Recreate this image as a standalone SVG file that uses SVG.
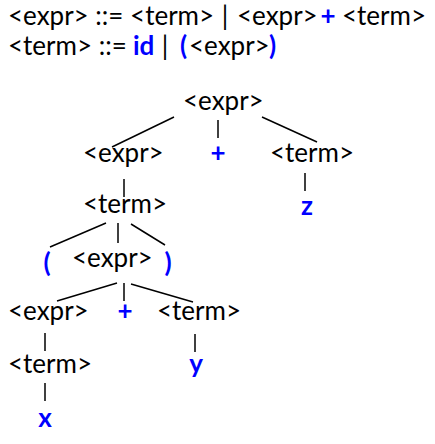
<svg xmlns="http://www.w3.org/2000/svg" width="435" height="444" viewBox="0 0 435 444">
<style>
text{font-family:Lato,"Open Sans","Liberation Sans",sans-serif;font-size:26px;fill:#000}
.t{fill:#0000ff;font-weight:bold}
.m{text-anchor:middle}
.c line{stroke:#000;stroke-width:1.5}
</style>
<rect width="435" height="444" fill="#fff"/>
<g id="grammar">
<text x="8" y="25">&lt;expr&gt; ::= &lt;term&gt;</text>
<text class="m" x="225" y="25">|</text>
<text x="237" y="25">&lt;expr&gt;</text>
<text class="t m" x="328" y="25">+</text>
<text x="342" y="25">&lt;term&gt;</text>
<text x="8" y="55">&lt;term&gt; ::=</text>
<text class="t" x="133" y="55">id</text>
<text class="m" x="165" y="55">|</text>
<text class="t" x="180" y="55">(</text>
<text x="189" y="55">&lt;expr&gt;</text>
<text class="t" x="269" y="55">)</text>
</g>
<g class="c" id="connectors">
<line x1="174" y1="117" x2="112" y2="147"/>
<line x1="218" y1="120" x2="218" y2="138"/>
<line x1="262" y1="117" x2="317" y2="142"/>
<line x1="124" y1="179" x2="124" y2="197"/>
<line x1="305" y1="173" x2="305" y2="191"/>
<line x1="106" y1="223" x2="50" y2="247"/>
<line x1="118" y1="223" x2="118" y2="243"/>
<line x1="131" y1="224" x2="165" y2="245"/>
<line x1="117" y1="283" x2="57" y2="301"/>
<line x1="124" y1="283" x2="124" y2="301"/>
<line x1="131" y1="284" x2="193" y2="302"/>
<line x1="45" y1="333" x2="45" y2="351"/>
<line x1="195" y1="334" x2="195" y2="352"/>
<line x1="45" y1="383" x2="45" y2="401"/>
</g>
<g id="n1"><text x="183" y="110">&lt;expr&gt;</text></g>
<g id="n2"><text x="83" y="162">&lt;expr&gt;</text></g>
<g id="n3"><text class="t m" x="218" y="162">+</text></g>
<g id="n4"><text x="270" y="162">&lt;term&gt;</text></g>
<g id="n5"><text x="83" y="213">&lt;term&gt;</text></g>
<g id="n6"><text class="t m" x="307" y="215">z</text></g>
<g id="n7"><text class="t m" x="47" y="272">(</text></g>
<g id="n8"><text x="72" y="267">&lt;expr&gt;</text></g>
<g id="n9"><text class="t m" x="168" y="272">)</text></g>
<g id="n10"><text x="8" y="320">&lt;expr&gt;</text></g>
<g id="n11"><text class="t m" x="125" y="320">+</text></g>
<g id="n12"><text x="157" y="320">&lt;term&gt;</text></g>
<g id="n13"><text x="8" y="373">&lt;term&gt;</text></g>
<g id="n14"><text class="t m" x="196" y="373">y</text></g>
<g id="n15"><text class="t m" x="45" y="427">x</text></g>
</svg>
